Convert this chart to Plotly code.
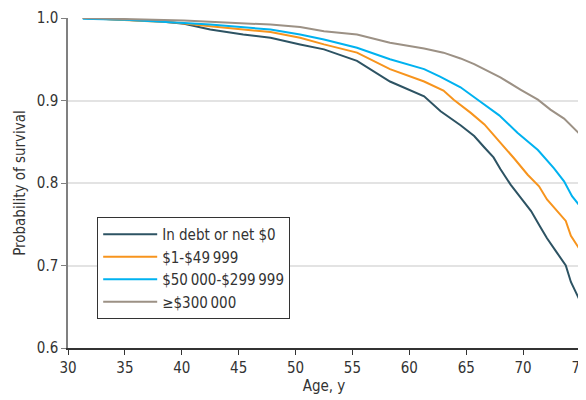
import plotly.graph_objects as go

# Data (age in years, probability of survival)
age_debt = [31.3, 35, 38, 40.2, 42.5, 45.4, 47.8, 50.4, 52.5, 55.4, 56.3, 58.3, 61.3, 62.75, 64.5, 65.7, 66.6, 67.4, 68.0, 68.9, 69.8, 70.7, 71.5, 72.1, 73.0, 73.75, 74.2, 75]
surv_debt = [1.0, 0.998, 0.996, 0.993, 0.986, 0.980, 0.976, 0.968, 0.962, 0.948, 0.940, 0.923, 0.905, 0.887, 0.870, 0.857, 0.843, 0.831, 0.817, 0.798, 0.782, 0.766, 0.747, 0.733, 0.715, 0.700, 0.680, 0.657]

age_low = [31.3, 35, 39.0, 42.5, 45.4, 47.8, 50.4, 52.5, 55.4, 58.3, 61.3, 63.0, 63.9, 65.4, 66.6, 67.9, 69.2, 70.4, 71.4, 72.1, 73.0, 73.75, 74.2, 75]
surv_low = [1.0, 0.998, 0.995, 0.990, 0.986, 0.983, 0.976, 0.968, 0.958, 0.938, 0.923, 0.912, 0.901, 0.885, 0.871, 0.851, 0.830, 0.810, 0.796, 0.780, 0.766, 0.754, 0.736, 0.719]

age_mid = [31.3, 35, 40.2, 42.5, 47.8, 50.4, 52.5, 55.4, 58.3, 61.3, 62.7, 64.5, 66.1, 67.9, 69.5, 71.3, 72.7, 73.6, 74.3, 75]
surv_mid = [0.999, 0.998, 0.994, 0.992, 0.986, 0.980, 0.974, 0.964, 0.950, 0.938, 0.929, 0.916, 0.900, 0.882, 0.861, 0.840, 0.818, 0.802, 0.784, 0.772]

age_high = [31.3, 35, 40.2, 47.8, 50.4, 52.5, 55.4, 58.3, 61.3, 63.0, 64.5, 65.7, 68.0, 69.8, 71.3, 72.4, 73.6, 75]
surv_high = [1.0, 0.999, 0.997, 0.992, 0.989, 0.984, 0.980, 0.970, 0.963, 0.958, 0.951, 0.944, 0.928, 0.913, 0.901, 0.889, 0.878, 0.859]

series_names = ["In debt or net $0", "$1-$49\u2009999", "$50\u2009000-$299\u2009999", "\u2265$300\u2009000"]
colors = ["#2d5363", "#f7941d", "#00b2f0", "#9c9185"]

x_ticks = [30, 35, 40, 45, 50, 55, 60, 65, 70, 75]
y_ticks = [0.6, 0.7, 0.8, 0.9, 1.0]
y_tick_labels = ["0.6", "0.7", "0.8", "0.9", "1.0"]

FONT = "Liberation Sans Narrow, DejaVu Sans Condensed, Open Sans, sans-serif"

fig = go.Figure()
for xs, ys, name, col in zip([age_debt, age_low, age_mid, age_high],
                             [surv_debt, surv_low, surv_mid, surv_high],
                             series_names, colors):
    fig.add_trace(go.Scatter(x=xs, y=ys, mode="lines", name=name,
                             line=dict(color=col, width=2, shape="linear")))

# The page body adds an 8px offset, so the figure is sized/margined to compensate
fig.update_layout(
    width=578, height=392,
    margin=dict(l=60, r=6, t=10, b=52),
    paper_bgcolor="white", plot_bgcolor="white",
    font=dict(family=FONT, size=15, color="#333333"),
    showlegend=True,
    legend=dict(x=0.057, y=0.397, xanchor="left", yanchor="top",
                bgcolor="white", bordercolor="#333333", borderwidth=1,
                font=dict(family=FONT, size=15, color="#333333"),
                itemwidth=54, tracegroupgap=0),
    xaxis=dict(range=[30, 75], tickvals=x_ticks, ticktext=[str(t) for t in x_ticks],
               showgrid=False, zeroline=False, showline=True, linecolor="#333333",
               linewidth=1.5, ticks="outside", ticklen=5, tickcolor="#333333",
               automargin=False, ticklabeloverflow="allow",
               title=dict(text="Age, y", font=dict(size=15), standoff=4),
               tickfont=dict(size=15)),
    yaxis=dict(range=[0.6, 1.0], tickvals=y_ticks, ticktext=y_tick_labels,
               showgrid=True, gridcolor="#e3e3e3", gridwidth=1.5, zeroline=False,
               showline=True, linecolor="#808080", linewidth=1.5,
               ticks="outside", ticklen=5, tickcolor="#808080",
               automargin=False,
               title=dict(text="Probability of survival", font=dict(size=15), standoff=8),
               tickfont=dict(size=15)),
)

fig.write_html("out.html")
